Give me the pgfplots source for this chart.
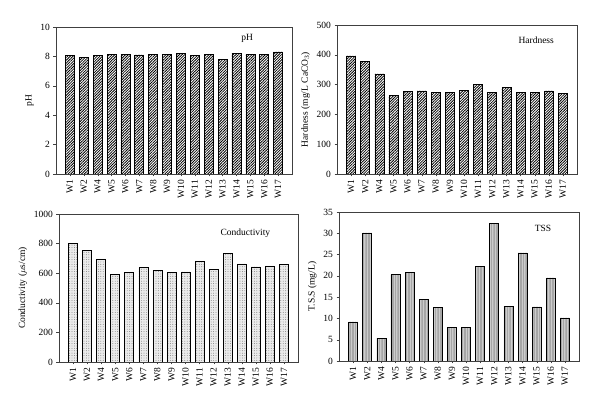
\documentclass[border=0pt]{standalone}
\usepackage{fontspec}
\setmainfont{Liberation Serif}
\usepackage{pgfplots}
\usepackage{pgfplotstable}
\pgfplotsset{compat=1.18}
\usetikzlibrary{patterns,patterns.meta}

% well data: idx, pH, hardness, conductivity, TSS
\pgfplotstableread{
idx ph   hard cond tss
0   8.07 396  802  9.2
1   7.91 377  755  30.1
2   8.05 336  697  5.4
3   8.16 263  591  20.3
4   8.14 276  607  20.9
5   8.10 279  638  14.5
6   8.16 273  620  12.5
7   8.11 274  604  7.9
8   8.18 280  609  7.9
9   8.07 300  683  22.2
10  8.11 273  625  32.3
11  7.82 290  733  12.9
12  8.18 273  663  25.4
13  8.16 275  643  12.7
14  8.11 279  649  19.5
15  8.30 271  661  10.1
}\wells

\pgfplotsset{
  panel/.style={
    scale only axis,
    xmin=-1, xmax=16, ymin=0,
    xtick={0,...,15},
    xticklabels={W1,W2,W4,W5,W6,W7,W8,W9,W10,W11,W12,W13,W14,W15,W16,W17},
    x tick label style={rotate=90, anchor=east},
    tick align=outside, tick pos=left,
    major tick length=2.5pt,
    axis line style={line width=0.6pt, black!75},
    tick style={black!75},
    font=\fontsize{9.5}{11}\selectfont,
    /pgf/number format/assume math mode=true,
    /pgf/number format/1000 sep={},
    anchor=south west,
  },
  bars/.style={ybar, bar width=9pt, draw=black, line width=0.6pt},
}

\begin{document}
\begin{tikzpicture}
\path (0pt,0pt) rectangle (600pt,406pt);

% pH
\begin{axis}[panel, at={(56pt,232pt)}, width=236pt, height=147pt,
  ymax=10, ytick={0,2,...,10}, ylabel={pH}]
\addplot[bars, pattern={Lines[angle=45,distance=1.9pt,line width=0.8pt]}] table[x=idx,y=ph]{\wells};
\node at (rel axis cs:0.81,0.92) {pH};
\end{axis}

% hardness
\begin{axis}[panel, at={(337pt,232pt)}, width=240pt, height=149pt,
  ymax=500, ytick={0,100,...,500}, ylabel={Hardness (mg/L CaCO$_3$)}]
\addplot[bars, pattern={Lines[angle=45,distance=1.9pt,line width=0.8pt]}] table[x=idx,y=hard]{\wells};
\node at (rel axis cs:0.83,0.90) {Hardness};
\end{axis}

% conductivity
\begin{axis}[panel, at={(59pt,44pt)}, width=239pt, height=148pt,
  ymax=1000, ytick={0,200,...,1000}, ylabel={Conductivity ($\mu$s/cm)}]
\addplot[bars, fill=black!8, postaction={pattern={Dots[distance=2.4pt,radius=0.45pt]}, pattern color=black!55}] table[x=idx,y=cond]{\wells};
\node at (rel axis cs:0.78,0.87) {Conductivity};
\end{axis}

% TSS
\begin{axis}[panel, at={(339pt,45pt)}, width=240pt, height=149pt,
  ymax=35, ytick={0,5,...,35}, ylabel={T.S.S (mg/L)}]
\addplot[bars, fill=black!20, postaction={pattern={Lines[angle=90,distance=1.6pt,line width=0.4pt]}, pattern color=black!35}] table[x=idx,y=tss]{\wells};
\node at (rel axis cs:0.85,0.89) {TSS};
\end{axis}
\end{tikzpicture}
\end{document}
